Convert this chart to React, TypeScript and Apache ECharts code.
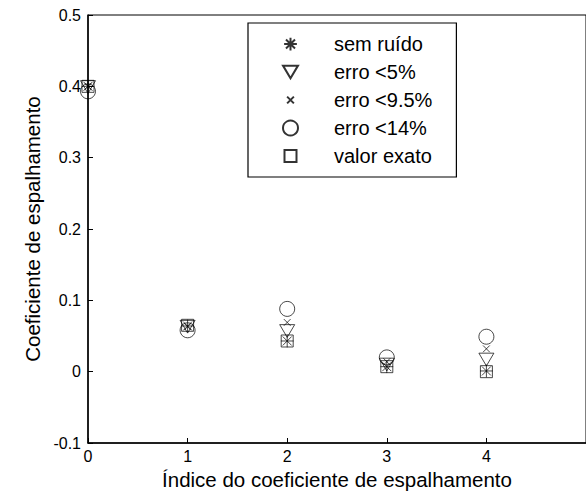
import React, { useEffect, useRef } from "react";
import * as echarts from "echarts";

const indices = [0, 1, 2, 3, 4];
const seriesNames = ["sem ruído", "erro <5%", "erro <9.5%", "erro <14%", "valor exato"];
const semRuido = [0.4, 0.064, 0.043, 0.007, 0.001];
const erro5 = [0.399, 0.063, 0.057, 0.01, 0.017];
const erro95 = [0.4, 0.063, 0.069, 0.014, 0.032];
const erro14 = [0.393, 0.058, 0.088, 0.02, 0.049];
const valorExato = [0.4, 0.065, 0.043, 0.007, 0.0];
const yTicks = [-0.1, 0, 0.1, 0.2, 0.3, 0.4, 0.5];

const PAD = "M-1,-1M1,1";
const asteriskPath =
  "path://M0,-0.85L0,0.85M-0.85,0L0.85,0M-0.6,-0.6L0.6,0.6M-0.6,0.6L0.6,-0.6" + PAD;
const triDownPath = "path://M-1,-0.85L1,-0.85L0,0.85Z" + PAD;
const xPath = "path://M-0.45,-0.45L0.45,0.45M-0.45,0.45L0.45,-0.45" + PAD;
const squarePath = "path://M-0.8,-0.8L0.8,-0.8L0.8,0.8L-0.8,0.8Z" + PAD;

const symbols = [asteriskPath, triDownPath, xPath, "circle", squarePath];
const values = [semRuido, erro5, erro95, erro14, valorExato];

const FONT = "Liberation Sans, Arial, sans-serif";

export default function App() {
  const ref = useRef<HTMLDivElement>(null);
  useEffect(() => {
    if (!ref.current) return;
    const chart = echarts.init(ref.current, undefined, { renderer: "svg" });
    chart.setOption({
      animation: false,
      backgroundColor: "#fff",
      textStyle: { fontFamily: FONT },
      grid: {
        left: 88,
        top: 15,
        width: 503,
        height: 428,
        show: true,
        borderColor: "#000",
        borderWidth: 1,
        backgroundColor: "transparent",
      },
      legend: {
        orient: "vertical",
        left: 248,
        top: 23,
        data: seriesNames,
        itemWidth: 15,
        itemHeight: 15,
        itemGap: 8,
        padding: [11, 24, 11, 34],
        borderColor: "#000",
        borderWidth: 1.2,
        backgroundColor: "#fff",
        textStyle: {
          fontSize: 20,
          color: "#000",
          fontFamily: FONT,
          padding: [0, 0, 0, 31],
        },
      },
      xAxis: {
        type: "value",
        min: 0,
        max: 5,
        interval: 1,
        name: "Índice do coeficiente de espalhamento",
        nameLocation: "middle",
        nameGap: 25,
        nameTextStyle: { fontSize: 20.5, color: "#000", fontFamily: FONT, fontWeight: "normal" },
        axisLine: { show: true, onZero: false, lineStyle: { color: "#000", width: 1.5 } },
        axisTick: { show: true, inside: true, length: 5, lineStyle: { color: "#000" } },
        axisLabel: { fontSize: 16, color: "#000", margin: 5, fontFamily: FONT, showMaxLabel: false },
        splitLine: { show: false },
      },
      yAxis: {
        type: "value",
        min: yTicks[0],
        max: yTicks[yTicks.length - 1],
        interval: 0.1,
        name: "Coeficiente de espalhamento",
        nameLocation: "middle",
        nameGap: 45,
        nameTextStyle: { fontSize: 20.5, color: "#000", fontFamily: FONT, fontWeight: "normal" },
        axisLine: { show: true, onZero: false, lineStyle: { color: "#000", width: 1.5 } },
        axisTick: { show: true, inside: true, length: 5, lineStyle: { color: "#000" } },
        axisLabel: {
          fontSize: 16,
          color: "#000",
          margin: 7,
          fontFamily: FONT,
          formatter: (v: number) => String(Math.round(v * 10) / 10),
        },
        splitLine: { show: false },
      },
      series: seriesNames.map((name, i) => ({
        type: "scatter",
        name,
        symbol: symbols[i],
        symbolSize: 15,
        data: indices.map((x, j) => [x, values[i][j]]),
        itemStyle: { color: "transparent", borderColor: "#000", borderWidth: 0.9 },
        emphasis: { disabled: true },
        z: 2 + i,
      })),
    });
    return () => chart.dispose();
  }, []);
  return (
    <div
      ref={ref}
      style={{ position: "absolute", left: 0, top: 0, width: 586, height: 497 }}
    />
  );
}
